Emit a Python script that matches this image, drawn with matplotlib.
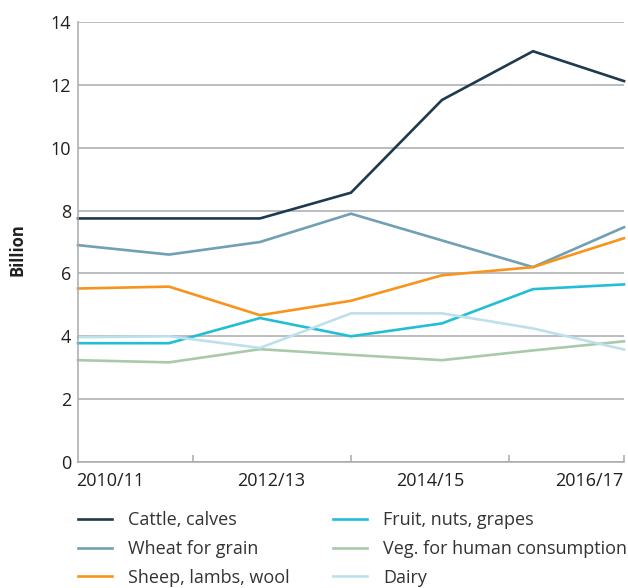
import matplotlib.pyplot as plt

plt.rcParams['font.family'] = ['Open Sans', 'DejaVu Sans']

years = ['2010/11', '2011/12', '2012/13', '2013/14', '2014/15', '2015/16', '2016/17']
cattle = [7.75, 7.75, 7.75, 8.57, 11.52, 13.07, 12.12]
wheat = [6.9, 6.6, 7.0, 7.9, 7.05, 6.2, 7.47]
sheep = [5.52, 5.58, 4.67, 5.13, 5.94, 6.2, 7.12]
fruit = [3.78, 3.78, 4.58, 4.0, 4.41, 5.5, 5.65]
veg = [3.24, 3.17, 3.59, 3.41, 3.24, 3.55, 3.84]
dairy = [3.97, 4.0, 3.63, 4.73, 4.73, 4.25, 3.58]

tick_labels = ['2010/11', '2012/13', '2014/15', '2016/17']
tick_label_pos = [0.35, 2.12, 3.87, 5.62]
tick_mark_pos = [1.26, 3.0, 4.74, 6.0]

series = [
    ('Cattle, calves', cattle, '#1e3a4e'),
    ('Wheat for grain', wheat, '#71a0b5'),
    ('Sheep, lambs, wool', sheep, '#f7941d'),
    ('Fruit, nuts, grapes', fruit, '#22bed6'),
    ('Veg. for human consumption', veg, '#a9c9ab'),
    ('Dairy', dairy, '#bde0ea'),
]

fig = plt.figure(figsize=(6.28, 5.88), dpi=100)
ax = fig.add_axes([78 / 628, 1 - 462 / 588, 546 / 628, 440 / 588])

x = list(range(len(years)))
lines = []
for name, vals, col in series:
    ln, = ax.plot(x, vals, color=col, lw=1.9, label=name, solid_joinstyle='miter', clip_on=False)
    lines.append(ln)

grid_col = '#a7a9ac'
ax.set_xlim(0, 6)
ax.set_ylim(0, 14)
ax.set_yticks(range(0, 15, 2))
ax.yaxis.grid(True, color=grid_col, lw=1.1)
ax.set_axisbelow(True)
for s in ['top', 'right']:
    ax.spines[s].set_visible(False)
for s in ['left', 'bottom']:
    ax.spines[s].set_color(grid_col)
    ax.spines[s].set_linewidth(1.1)

ax.set_xticks(tick_label_pos)
ax.set_xticklabels(tick_labels)
ax.set_xticks(tick_mark_pos, minor=True)
ax.tick_params(axis='x', which='major', length=0, pad=7, labelsize=13, labelcolor='#231f20')
ax.tick_params(axis='x', which='minor', direction='in', length=5, width=1.1, color=grid_col)
ax.tick_params(axis='y', length=0, pad=5, labelsize=13, labelcolor='#231f20')

fig.text(18 / 628, 1 - 250 / 588, 'Billion', rotation=90, ha='center', va='center',
         fontsize=12, fontweight='bold', color='#231f20')

fig.legend(handles=lines, ncol=2, loc='upper left', bbox_to_anchor=(78 / 628, 1 - 511 / 588),
           frameon=False, fontsize=13, handlelength=1.88, handletextpad=0.9,
           columnspacing=2.4, labelspacing=0.6, borderpad=0, borderaxespad=0,
           labelcolor='#333333')

fig.savefig('out.png', dpi=100)
